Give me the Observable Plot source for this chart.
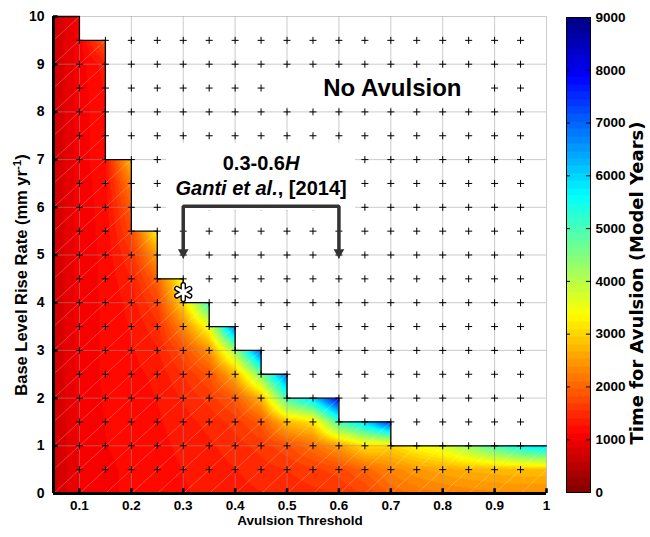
<!DOCTYPE html>
<html><head><meta charset="utf-8">
<script src="https://cdn.jsdelivr.net/npm/d3@7"></script>
<script src="https://cdn.jsdelivr.net/npm/@observablehq/plot@0.6"></script>
<style>
body{margin:0;background:#fff;}
#wrap{display:flex;width:650px;height:537px;background:#fff;}
</style></head><body><div id="wrap"></div>
<script>
// ---------- data ----------
const xGrid = [0.05,0.1,0.15,0.2,0.25,0.3,0.35,0.4,0.45,0.5,0.55,0.6,0.65,0.7,0.75,0.8,0.85,0.9,0.95,1.0];
const yStep = 0.5; // rows at y = 0, 0.5, 1, ...
// Time for avulsion (model years) at each grid column, from y = 0 upward (last value = highest valid row)
const t005 = [650,660,670,680,690,700,700,700,700,700,700,700,700,700,700,700,700,700,700,700,700];
const t010 = [1000,1000,1020,1020,1030,1030,1040,1040,1050,1050,1050,1050,1050,1050,1050,1050,1050,1050,1050,1050,1050];
const t015 = [1100,1100,1120,1130,1140,1150,1150,1150,1150,1160,1160,1170,1180,1200,1250,1250,1250,1280,1350,1900];
const t020 = [1150,1150,1170,1180,1200,1220,1250,1280,1320,1400,1550,1750,1950,2250,2800];
const t025 = [1200,1200,1220,1240,1270,1300,1380,1500,1700,2000,2500,3300];
const t030 = [1250,1270,1300,1350,1420,1550,1800,2300,3000,3500];
const t035 = [1300,1330,1380,1450,1600,1850,2400,3500,5200];
const t040 = [1350,1400,1480,1600,1900,2700,4200,7000];
const t045 = [1400,1480,1600,1900,2700,4500,7200];
const t050 = [1450,1550,1800,2800,5000,7000];
const t055 = [1500,1650,2100,3100,6000];
const t060 = [1550,1750,2500,5000,8000];
const t065 = [1700,2000,3100,6000];
const t070 = [2000,2300,3000,7500];
const t075 = [2150,2500,3400];
const t080 = [2250,2600,3700];
const t085 = [2300,2700,4300];
const t090 = [2350,2750,5000];
const t095 = [2350,2800,5600];
const t100 = [2350,2800,6000];
const timeColumns = [t005,t010,t015,t020,t025,t030,t035,t040,t045,t050,t055,t060,t065,t070,t075,t080,t085,t090,t095,t100];

const crossXs = [0.1,0.15,0.2,0.25,0.3,0.35,0.4,0.45,0.5,0.55,0.6,0.65,0.7,0.75,0.8,0.85,0.9,0.95];
const crossYs = [0.5,1,1.5,2,2.5,3,3.5,4,4.5,5,5.5,6,6.5,7,7.5,8,8.5,9,9.5];

const xTickVals = [0.1,0.2,0.3,0.4,0.5,0.6,0.7,0.8,0.9,1];
const xTickLabels = ["0.1","0.2","0.3","0.4","0.5","0.6","0.7","0.8","0.9","1"];
const yTickVals = [0,1,2,3,4,5,6,7,8,9,10];
const yTickLabels = ["0","1","2","3","4","5","6","7","8","9","10"];
const cbTickVals = [0,1000,2000,3000,4000,5000,6000,7000,8000,9000];
const cbTickLabels = ["0","1000","2000","3000","4000","5000","6000","7000","8000","9000"];

const jetStops = [0,1125,3375,5625,7875,9000];
const jetColors = ["#800000","#ff0000","#ffff00","#00ffff","#0000ff","#000080"];

const noAvulsionLabel = [{x:0.703, y:8.5, text:"No Avulsion"}];
const gantiLines = [{x:0.45, y:6.92, text:"0.3-0.6H"},{x:0.45, y:6.39, text:"Ganti et al., [2014]"}];
const labelBoxes = [{x1:0.49,x2:0.87,y1:8.09,y2:8.91},{x1:0.268,x2:0.632,y1:5.92,y2:7.34}];
const bracket = [{x:0.3,y:5.05},{x:0.3,y:6.02},{x:0.6,y:6.02},{x:0.6,y:5.05}];
const arrowTips = [{x:0.3,y:4.93},{x:0.6,y:4.93}];
const starPoint = [{x:0.3,y:4.22}];

const xLabel = "Avulsion Threshold";
const yLabel = "Base Level Rise Rate (mm yr-1)";
const cbLabel = "Time for Avulsion (Model Years)";

// ---------- derived geometry ----------
const nCols = xGrid.length;
const dxGrid = xGrid[1]-xGrid[0];
const cellCount = d3.range(nCols-1).map(i => Math.min(timeColumns[i].length, timeColumns[i+1].length)-1);
const stairs = cellCount.map((n,i) => ({x:xGrid[i], y:n*yStep})).concat([{x:xGrid[nCols-1], y:cellCount[nCols-2]*yStep}]);
const diagonals = [];
cellCount.forEach((n,i) => { for (let j=0;j<n;j++) diagonals.push({x1:xGrid[i],y1:j*yStep,x2:xGrid[i+1],y2:(j+1)*yStep}); });
const crosses = crossYs.flatMap(y => crossXs.map(x => ({x,y})));

const quant = v => (Math.min(63, Math.max(0, Math.floor(v/9000*64))) + 0.5) * 9000/64;
function field(x, y) {
  const fi = (x - xGrid[0]) / dxGrid, fj = y / yStep;
  const i = Math.min(Math.max(Math.floor(fi),0), nCols-2);
  const j = Math.max(Math.floor(fj),0);
  if (j >= cellCount[i]) return NaN;
  const A = timeColumns[i], B = timeColumns[i+1];
  const u = fi - i, v = fj - j;
  const val = A[j]*(1-u)*(1-v) + B[j]*u*(1-v) + A[j+1]*(1-u)*v + B[j+1]*u*v;
  return quant(val);
}

const colorScale = {type:"linear", domain: jetStops, range: jetColors, interpolate:"rgb"};
const font = '"Liberation Sans", Arial, Helvetica, sans-serif';

const main = Plot.plot({
  width: 558, height: 537,
  marginLeft: 53, marginRight: 12, marginTop: 16, marginBottom: 44,
  x: {domain:[0.05,1]},
  y: {domain:[0,10]},
  color: colorScale,
  style: {fontFamily: font, fontSize: "14px", fontWeight: "bold", background: "white", color: "black", overflow: "visible"},
  marks: [
    Plot.raster({x1:0.05, x2:1, y1:0, y2:10, fill: field, pixelSize: 1}),
    Plot.link(diagonals, {x1:"x1", y1:"y1", x2:"x2", y2:"y2", stroke:"white", strokeOpacity:0.35, strokeWidth:0.7}),
    Plot.ruleX(xTickVals, {y1:0, y2:10, stroke:"#999", strokeOpacity:0.5}),
    Plot.ruleY(yTickVals.filter(d => d > 0), {x1:0.05, x2:1, stroke:"#999", strokeOpacity:0.5}),
    Plot.dot(crosses, {x:"x", y:"y", symbol:"plus", r:2.4, stroke:"black", strokeWidth:1}),
    Plot.line(stairs, {x:"x", y:"y", curve:"step-after", stroke:"black", strokeWidth:1.3}),
    Plot.rect(labelBoxes, {x1:"x1", x2:"x2", y1:"y1", y2:"y2", fill:"white"}),
    Plot.text(noAvulsionLabel, {x:"x", y:"y", text:"text", fontSize:24, fontWeight:"bold"}),
    Plot.text(gantiLines, {x:"x", y:"y", text:"text", fontSize:20, fontWeight:"bold"}),
    Plot.line(bracket, {x:"x", y:"y", stroke:"#333", strokeWidth:3.5, strokeLinejoin:"miter"}),
    Plot.dot(arrowTips, {x:"x", y:"y", symbol:"triangle", r:4, fill:"#333", rotate:180, dy:-6}),
    Plot.dot(starPoint, {x:"x", y:"y", symbol:"asterisk", r:7, stroke:"black", strokeWidth:5.5, strokeLinecap:"round"}),
    Plot.dot(starPoint, {x:"x", y:"y", symbol:"asterisk", r:7, stroke:"white", strokeWidth:2.8, strokeLinecap:"round"}),
    Plot.ruleX(xTickVals, {y1:0, y2:0.1, stroke:"black", strokeWidth:2.5}),
    Plot.ruleY(yTickVals, {x1:0.05, x2:0.059, stroke:"black", strokeWidth:2.5}),
    Plot.ruleX([0.05], {y1:0, y2:10, stroke:"black", strokeWidth:3}),
    Plot.ruleY([0], {x1:0.05, x2:1, stroke:"black", strokeWidth:3}),
    Plot.axisX({ticks: xTickVals, tickFormat: d => xTickLabels[xTickVals.indexOf(d)], tickSize:0, tickPadding:7, label:null, fontSize:13.5, fontWeight:"bold"}),
    Plot.axisY({ticks: yTickVals, tickFormat: d => yTickLabels[yTickVals.indexOf(d)], tickSize:0, tickPadding:9, label:null, fontSize:14, fontWeight:"bold"}),
    Plot.text([xLabel], {text: d => d, frameAnchor:"bottom", textAnchor:"middle", dy:31, fontSize:13.5, fontWeight:"bold"}),
    Plot.text([yLabel], {text: d => d, frameAnchor:"left", textAnchor:"middle", dx:-32, dy:20, rotate:-90, fontSize:16.5, fontWeight:"bold"})
  ]
});

const cbar = Plot.plot({
  width: 92, height: 537,
  marginLeft: 8, marginRight: 60, marginTop: 17, marginBottom: 45,
  x: {domain:[0,1], axis:null},
  y: {domain:[0,9000], axis:null},
  color: colorScale,
  style: {fontFamily: font, fontSize: "13.5px", fontWeight: "bold", background: "white", color: "black", overflow: "visible"},
  marks: [
    Plot.raster({x1:0, x2:1, y1:0, y2:9000, fill: (x, y) => quant(y), pixelSize: 1}),
    Plot.ruleY(cbTickVals.slice(1), {x1:0, x2:0.17, stroke:"black", strokeWidth:1}),
    Plot.ruleY(cbTickVals.slice(1), {x1:0.83, x2:1, stroke:"black", strokeWidth:1}),
    Plot.frame({stroke:"black", strokeWidth:1}),
    Plot.axisY({anchor:"right", ticks: cbTickVals, tickFormat: d => cbTickLabels[cbTickVals.indexOf(d)], tickSize:0, tickPadding:5, label:null, fontSize:13.5, fontWeight:"bold"}),
    Plot.text([cbLabel], {text: d => d, frameAnchor:"right", textAnchor:"middle", dx:47, dy:28, rotate:-90, fontSize:18, fontWeight:"bold", fontFamily:'"DejaVu Sans", Verdana, sans-serif'})
  ]
});

function richText(svg, match, parts) {
  svg.querySelectorAll("text").forEach(t => {
    if (t.textContent === match) {
      t.textContent = "";
      for (const p of parts) {
        const ts = document.createElementNS("http://www.w3.org/2000/svg", "tspan");
        ts.textContent = p.text;
        if (p.italic) ts.setAttribute("font-style", "italic");
        if (p.sup) { ts.setAttribute("baseline-shift", "super"); ts.setAttribute("font-size", "70%"); }
        t.appendChild(ts);
      }
    }
  });
}
richText(main, "0.3-0.6H", [{text:"0.3-0.6"},{text:"H", italic:true}]);
richText(main, "Ganti et al., [2014]", [{text:"Ganti et al.", italic:true},{text:", [2014]"}]);
richText(main, yLabel, [{text:"Base Level Rise Rate (mm yr"},{text:"-1", sup:true},{text:")"}]);

const wrap = document.getElementById("wrap");
wrap.appendChild(main);
wrap.appendChild(cbar);
</script></body></html>
